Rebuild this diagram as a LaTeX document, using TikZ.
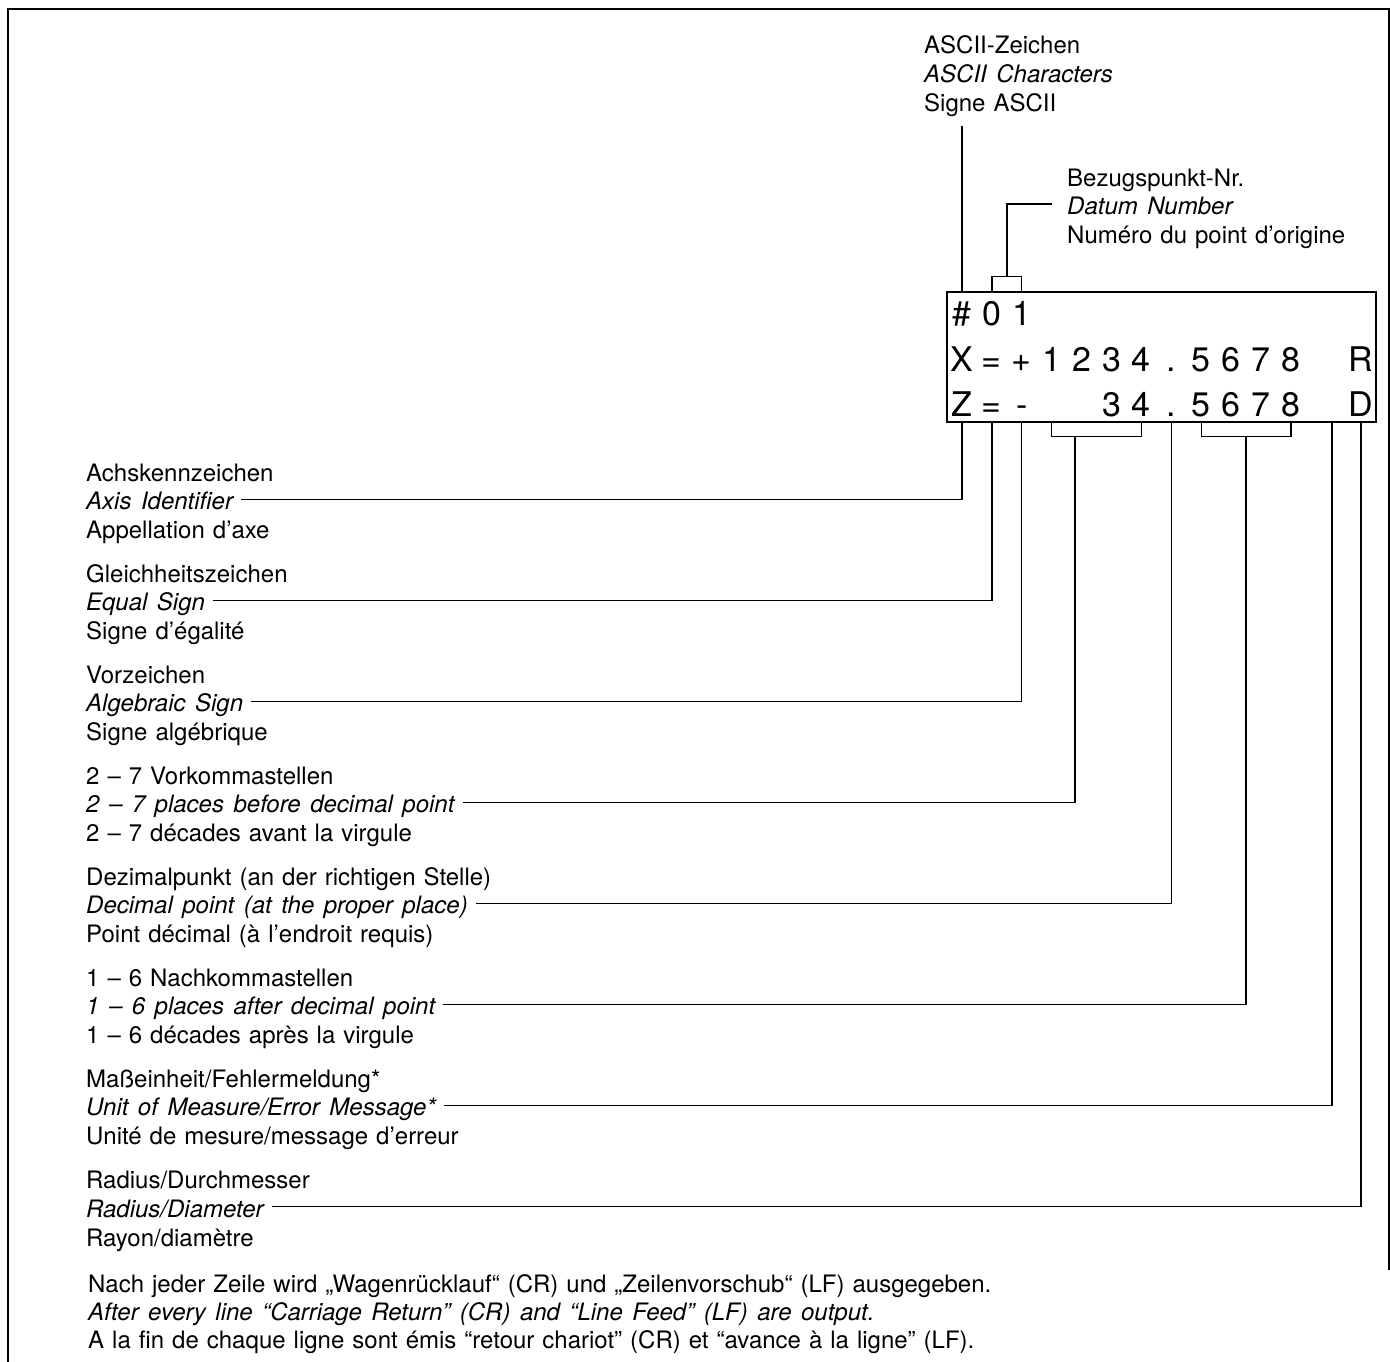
\documentclass[tikz,border=0pt]{standalone}
\usepackage{fontspec}
\setmainfont{TeX Gyre Heros}
\usetikzlibrary{positioning}
\newcommand\lblfont{\fontsize{24}{28}\selectfont\spaceskip=8pt\relax}
\newcommand\lblitfont{\fontsize{24}{28}\selectfont\itshape\spaceskip=9.5pt\relax}

\begin{document}
\begin{tikzpicture}[x=1pt, y=-1pt,
    lbl/.style={anchor=base west, inner sep=0pt, font=\lblfont},
    lblit/.style={lbl, font=\lblitfont},
    dispbox/.style={draw, line width=1.6pt, minimum width=429pt, minimum height=130pt, inner sep=0pt},
    digit/.style={anchor=base, inner sep=0pt, font=\fontsize{34}{40}\selectfont},
    leader/.style={line width=1.2pt},
    frame/.style={line width=1.5pt}
  ]
  \useasboundingbox (0,0) rectangle (1390,1362);
  % outer frame, open at the bottom
  \draw[frame] (8,1362) -- (8,9) -- (1389,9) -- (1389,1270);

  % display with its three lines
  \node[dispbox] (disp) at (1161.5,357) {};
  \node[digit] (h0) at (962,325) {\#};
  \node[digit] (h1) at (991.9,325) {0};
  \node[digit] (h2) at (1021.8,325) {1};
  \foreach \c [count=\i from 0] in {X,=,+,1,2,3,4,.,5,6,7,8}
    \node[digit] (x\i) at (962+29.9*\i,371) {\c};
  \foreach \c [count=\i from 0] in {Z,=,-,{},{},3,4,.,5,6,7,8}
    \node[digit] (z\i) at (962+29.9*\i,416) {\c};
  \node[digit] (rR) at (1361,371) {R};
  \node[digit] (rD) at (1361,416) {D};

  % labels above the display
  \node[lbl]   (asciiDE) at (924,54)  {ASCII-Zeichen};
  \node[lblit] (asciiEN) at (924,83)  {ASCII Characters};
  \node[lbl]   (asciiFR) at (924,112) {Signe ASCII};
  \node[lbl]   (datumDE) at (1067,186) {Bezugspunkt-Nr.};
  \node[lblit] (datumEN) at (1067,214.5) {Datum Number};
  \node[lbl]   (datumFR) at (1067,243) {Numéro du point d’origine};

  % labels on the left
  \node[lbl]   (axisDE) at (86,481)   {Achskennzeichen};
  \node[lblit] (axisEN) at (86,509.8) {Axis Identifier};
  \node[lbl]   (axisFR) at (86,538.6) {Appellation d’axe};

  \node[lbl]   (equalDE) at (86,582) {Gleichheitszeichen};
  \node[lblit] (equalEN) at (86,610.8) {Equal Sign};
  \node[lbl]   (equalFR) at (86,639.6) {Signe d’égalité};

  \node[lbl]   (signDE) at (86,683) {Vorzeichen};
  \node[lblit] (signEN) at (86,711.8) {Algebraic Sign};
  \node[lbl]   (signFR) at (86,740.6) {Signe algébrique};

  \node[lbl]   (beforeDE) at (86,784) {2 – 7 Vorkommastellen};
  \node[lblit] (beforeEN) at (86,812.8) {2 – 7 places before decimal point};
  \node[lbl]   (beforeFR) at (86,841.6) {2 – 7 décades avant la virgule};

  \node[lbl]   (pointDE) at (86,885) {Dezimalpunkt (an der richtigen Stelle)};
  \node[lblit] (pointEN) at (86,913.8) {Decimal point (at the proper place)};
  \node[lbl]   (pointFR) at (86,942.6) {Point décimal (à l’endroit requis)};

  \node[lbl]   (afterDE) at (86,986)  {1 – 6 Nachkommastellen};
  \node[lblit] (afterEN) at (86,1014.8) {1 – 6 places after decimal point};
  \node[lbl]   (afterFR) at (86,1043.6) {1 – 6 décades après la virgule};

  \node[lbl]   (unitDE) at (86,1087) {Maßeinheit/Fehlermeldung*};
  \node[lblit] (unitEN) at (86,1115.8) {Unit of Measure/Error Message*};
  \node[lbl]   (unitFR) at (86,1144.6) {Unité de mesure/message d’erreur};

  \node[lbl]   (radiusDE) at (86,1188.4) {Radius/Durchmesser};
  \node[lblit] (radiusEN) at (86,1217.2) {Radius/Diameter};
  \node[lbl]   (radiusFR) at (86,1246) {Rayon/diamètre};

  \node[lbl]   (noteDE) at (88,1292) {Nach jeder Zeile wird „Wagenrücklauf“ (CR) und „Zeilenvorschub“ (LF) ausgegeben.};
  \node[lblit] (noteEN) at (88,1320.5) {After every line “Carriage Return” (CR) and “Line Feed” (LF) are output.};
  \node[lbl]   (noteFR) at (88,1348.5) {A la fin de chaque ligne sont émis “retour chariot” (CR) et “avance à la ligne” (LF).};

  % leaders above the display
  \coordinate (asciiEnd) at (962,126);
  \draw[leader] (disp.north -| x0) -- (asciiEnd);
  \draw[leader] (disp.north -| h1) -- ++(0,-15) -| (disp.north -| h2);
  \coordinate (datumTap) at (1007,277);
  \draw[leader] (datumTap) |- ([xshift=-15pt,yshift=10.5pt]datumEN.base west);

  % leaders below the display
  \draw[leader] (disp.south -| x0) |- ([xshift=8pt,yshift=10.5pt]axisEN.base east);
  \draw[leader] (disp.south -| x1) |- ([xshift=8pt,yshift=10.5pt]equalEN.base east);
  \draw[leader] (disp.south -| x2) |- ([xshift=8pt,yshift=10.5pt]signEN.base east);
  \draw[leader] (disp.south -| x3) -- ++(0,14) -| (disp.south -| x6);
  \coordinate (beforeTap) at (1075,436);
  \draw[leader] (beforeTap) |- ([xshift=8pt,yshift=10.5pt]beforeEN.base east);
  \draw[leader] (disp.south -| x7) |- ([xshift=8pt,yshift=10.5pt]pointEN.base east);
  \draw[leader] (disp.south -| x8) -- ++(0,14) -| (disp.south -| x11);
  \coordinate (afterTap) at (1246,436);
  \draw[leader] (afterTap) |- ([xshift=8pt,yshift=10.5pt]afterEN.base east);
  \coordinate (unitTap) at (1332,422);
  \draw[leader] (unitTap) |- ([xshift=8pt,yshift=10.5pt]unitEN.base east);
  \draw[leader] (disp.south -| rD) |- ([xshift=8pt,yshift=10.5pt]radiusEN.base east);
\end{tikzpicture}
\end{document}
